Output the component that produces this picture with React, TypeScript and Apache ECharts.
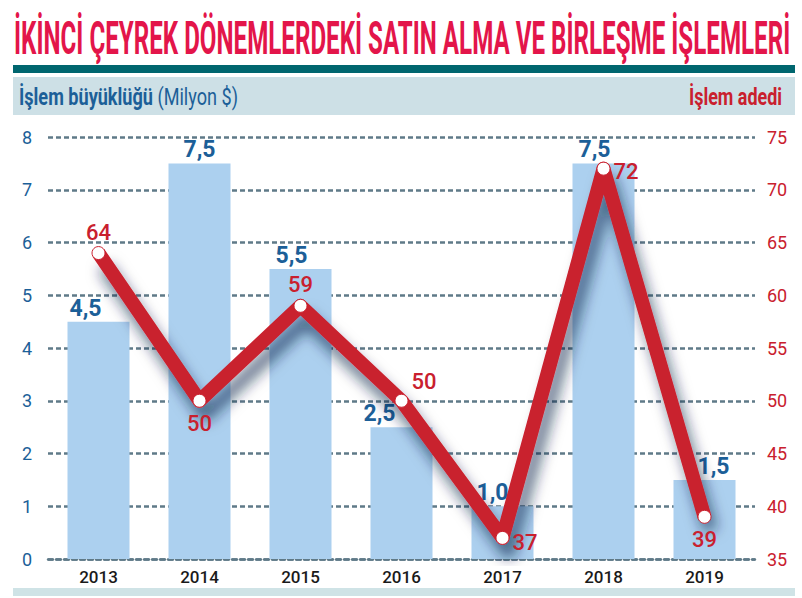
import { useEffect, useRef } from 'react';
import * as echarts from 'echarts';

const years = ['2013', '2014', '2015', '2016', '2017', '2018', '2019'];
const dealSize = [4.5, 7.5, 5.5, 2.5, 1.0, 7.5, 1.5];
const dealCount = [64, 50, 59, 50, 37, 72, 39];
const sizeLabelShift = [-13, 0, -9, -22, -10, -9, 9];
const countLabelPos = ['top', 'bottom', 'top', 'right', 'right', 'right', 'bottom'];
const countLabelOffset = [[0, 2], [0, 0], [0, 2], [-2, -19], [-2, 5], [-2, 3], [0, 0]];

const FONT = 'Roboto, sans-serif';
const BLUE = '#1c5f98';
const RED = '#c9202e';
const GRID = '#5f7a88';

// canvas ile metin genişliği ölç, hedef genişliğe sığdırmak için
function textWidth(text: string, font: string) {
  const ctx = document.createElement('canvas').getContext('2d');
  if (!ctx) return text.length * 10;
  ctx.font = font;
  return ctx.measureText(text).width;
}

export default function App() {
  const ref = useRef<HTMLDivElement>(null);

  useEffect(() => {
    if (!ref.current) return;
    const chart = echarts.init(ref.current, undefined, { renderer: 'svg' });

    const title = 'İKİNCİ ÇEYREK DÖNEMLERDEKİ SATIN ALMA VE BİRLEŞME İŞLEMLERİ';
    const titleFont = 'bold 47px Roboto';
    const titleScale = 776 / textWidth(title, titleFont);

    const leftA = 'İşlem büyüklüğü ';
    const leftB = '(Milyon $)';
    const hdrBold = 'bold 23px Roboto';
    const hdrReg = '23px Roboto';
    const wA = textWidth(leftA, hdrBold);
    const wB = textWidth(leftB, hdrReg);
    const leftScale = 219 / (wA + wB);
    const rightScale = 93 / textWidth('İşlem adedi', hdrBold);

    const option: any = {
      animation: false,
      backgroundColor: '#ffffff',
      grid: { left: 48, right: 47, top: 137, bottom: 39 },
      graphic: [
        {
          type: 'text', x: 14, y: 61, scaleX: titleScale,
          style: { text: title, font: titleFont, fill: '#e3154a', textVerticalAlign: 'bottom' },
        },
        { type: 'rect', shape: { x: 13, y: 65, width: 782, height: 8 }, style: { fill: '#00666f' } },
        { type: 'rect', shape: { x: 13, y: 77, width: 782, height: 38 }, style: { fill: '#cde0e6' } },
        {
          type: 'group', x: 19, y: 97, scaleX: leftScale,
          children: [
            { type: 'text', x: 0, y: 0, style: { text: leftA, font: hdrBold, fill: BLUE, textVerticalAlign: 'middle' } },
            { type: 'text', x: wA, y: 0, style: { text: leftB, font: hdrReg, fill: BLUE, textVerticalAlign: 'middle' } },
          ],
        },
        {
          type: 'text', x: 782, y: 97, scaleX: rightScale,
          style: { text: 'İşlem adedi', font: hdrBold, fill: RED, textAlign: 'right', textVerticalAlign: 'middle' },
        },
        { type: 'rect', shape: { x: 13, y: 588, width: 782, height: 8 }, style: { fill: '#cfe3e6' } },
      ],
      xAxis: {
        type: 'category',
        data: years,
        axisLine: { lineStyle: { color: GRID, width: 2.5, type: [5, 3] } },
        axisTick: { inside: true, length: 8, lineStyle: { color: GRID, width: 2.5 } },
        axisLabel: { color: '#1a1a1a', fontSize: 17, fontWeight: 500, fontFamily: FONT, margin: 9 },
      },
      yAxis: [
        {
          type: 'value', min: 0, max: 8, interval: 1,
          axisLine: { show: false }, axisTick: { show: false },
          axisLabel: { color: BLUE, fontSize: 18, fontFamily: FONT, margin: 16, padding: [0, 0, 10, 0] },
          splitLine: { lineStyle: { color: GRID, width: 2.5, type: [5, 3] } },
        },
        {
          type: 'value', min: 35, max: 75, interval: 5,
          axisLine: { show: false }, axisTick: { show: false },
          axisLabel: { color: RED, fontSize: 18, fontFamily: FONT, margin: 12, padding: [0, 0, 10, 0] },
          splitLine: { show: false },
        },
      ],
      series: [
        {
          type: 'bar',
          data: dealSize.map((v, i) => ({ value: v, label: { offset: [sizeLabelShift[i], 0] } })),
          barWidth: 62,
          itemStyle: { color: '#acd0ef' },
          label: {
            show: true, position: 'top', distance: 2,
            color: BLUE, fontSize: 23, fontWeight: 'bold', fontFamily: FONT,
            formatter: (p: any) => p.value.toFixed(1).replace('.', ','),
          },
        },
        {
          type: 'line',
          yAxisIndex: 1,
          data: dealCount.map((v, i) => ({
            value: v,
            label: { position: countLabelPos[i], offset: countLabelOffset[i] },
          })),
          symbol: 'circle',
          symbolSize: 13,
          itemStyle: { color: '#ffffff', borderColor: RED, borderWidth: 1 },
          lineStyle: {
            color: RED, width: 14, join: 'round',
            shadowColor: 'rgba(0,35,65,0.6)', shadowBlur: 14, shadowOffsetX: 6, shadowOffsetY: 14,
          },
          label: { show: true, color: RED, fontSize: 22, fontWeight: 500, fontFamily: FONT, distance: 5 },
          z: 5,
        },
      ],
    };

    chart.setOption(option);
    return () => chart.dispose();
  }, []);

  return <div ref={ref} style={{ position: 'fixed', left: 0, top: 0, width: 802, height: 598 }} />;
}
